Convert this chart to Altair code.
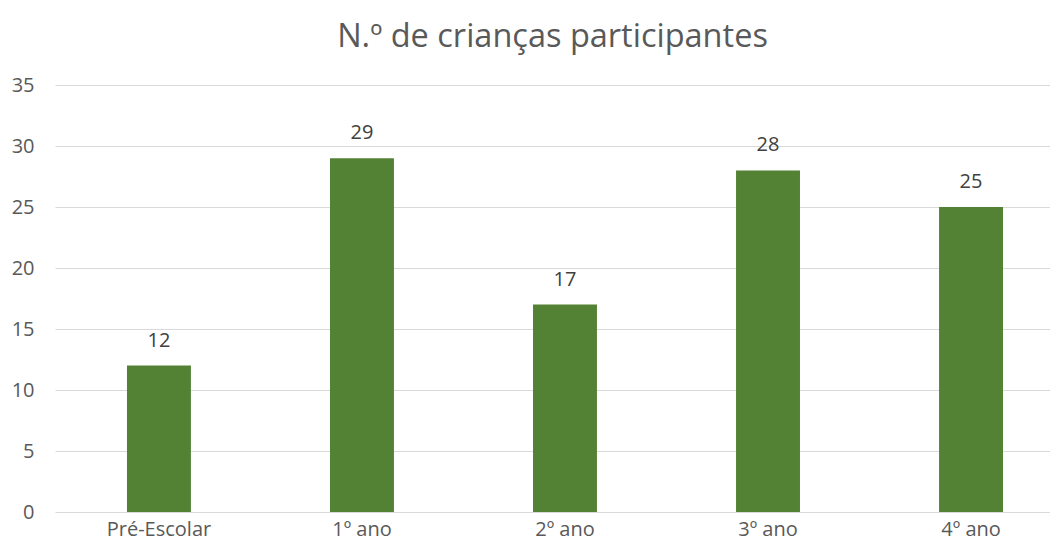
import altair as alt
import pandas as pd

categories = ["Pré-Escolar", "1º ano", "2º ano", "3º ano", "4º ano"]
values = [12, 29, 17, 28, 25]

df = pd.DataFrame({"cat": categories, "val": values})

FONT = "Open Sans"
GREEN = "#548235"

x = alt.X(
    "cat:N",
    sort=categories,
    scale=alt.Scale(paddingInner=0.685, paddingOuter=0.293, align=0.605),
    axis=alt.Axis(
        title=None, labelAngle=0, domain=False, ticks=False,
        labelFont=FONT, labelFontSize=20, labelColor="#595959", labelPadding=7,
    ),
)
y = alt.Y(
    "val:Q",
    scale=alt.Scale(domain=[0, 35], nice=False),
    axis=alt.Axis(
        title=None, values=[0, 5, 10, 15, 20, 25, 30, 35], domain=False, ticks=False,
        grid=True, gridColor="#d9d9d9", gridWidth=1,
        labelFont=FONT, labelFontSize=20, labelColor="#595959", labelPadding=21,
    ),
)

bars = alt.Chart(df).mark_bar(color=GREEN).encode(x=x, y=y)
labels = alt.Chart(df).mark_text(
    baseline="bottom", dy=-15, font=FONT, fontSize=20, color="#404040"
).encode(x=alt.X("cat:N", sort=categories), y="val:Q", text="val:Q")

chart = (
    alt.layer(bars, labels)
    .properties(
        width=995,
        height=427,
        padding={"left": 3, "top": 12, "right": 0, "bottom": 4},
        title=alt.TitleParams(
            "N.º de crianças participantes", font=FONT, fontSize=32.5,
            fontWeight="normal", color="#595959", offset=22,
        ),
    )
    .configure_view(stroke=None)
)

chart.save("out.html", embed_options={"renderer": "svg", "actions": False})
